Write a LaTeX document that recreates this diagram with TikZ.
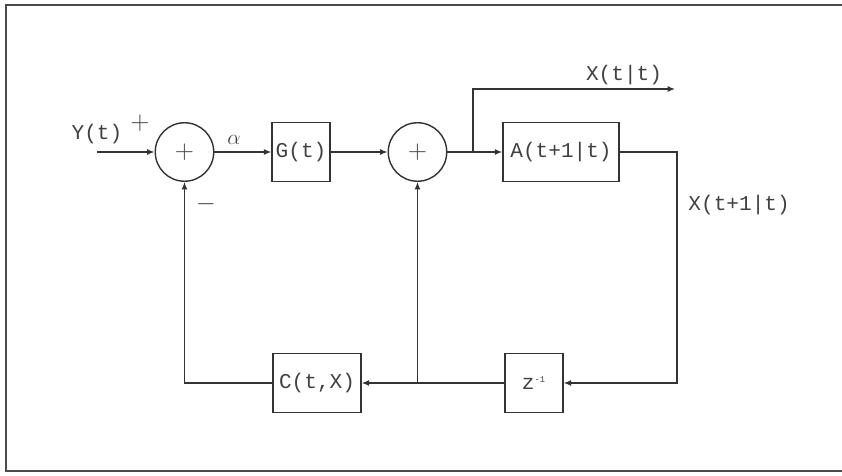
\documentclass[tikz,border=0pt]{standalone}
\usepackage{fontspec}
\setmonofont{Liberation Mono}
\usepackage{amsmath,amssymb}
\usetikzlibrary{positioning,arrows.meta,calc}

\tikzset{
  block/.style={draw=black!80,line width=0.8pt,minimum height=1.19cm,inner sep=2pt,font=\fontsize{12}{14}\ttfamily,text=black!75},
  summer/.style={draw=black!80,line width=0.8pt,circle,minimum size=1.17cm,inner sep=0pt,font=\Large\sffamily,text=black!75},
  sig/.style={font=\fontsize{12}{14}\ttfamily,text=black!75}
}

\begin{document}
\begin{tikzpicture}[>={Latex[length=1.5mm,width=1.2mm]},line width=0.7pt,draw=black!80]
\useasboundingbox (0,0) rectangle (16.84,9.5);
\clip (0,0) rectangle (16.84,9.5);
% frame
\draw[black!70,line width=1pt] (17.5,9.4) -- (0.12,9.4) -- (0.12,0.08) -- (17.5,0.08);

\node[summer] (sumA) at (3.69,6.46) {+};
\node[block,minimum width=1.16cm] (gain) at (6.02,6.46) {G(t)};
\node[summer] (sumB) at (8.35,6.46) {+};
\node[block,minimum width=2.32cm] (pred) at (11.22,6.46) {A(t+1|t)};
\node[block,minimum width=1.16cm] (delay) at (10.68,1.84) {z\textsuperscript{\tiny -1}};
\node[block,minimum width=1.76cm] (obs) at (6.34,1.84) {C(t,X)};

\coordinate (yin) at (1.94,6.46);
\coordinate (tap) at (9.46,6.46);
\coordinate (xout) at (13.5,7.72);
\coordinate (corner) at (13.54,6.46);
\coordinate (fb) at (8.35,1.84);

\node[sig,anchor=south] (ylab) at (1.94,6.5) {Y(t)};
\node[font=\Large\sffamily,text=black!75] (plus) at (2.8,7.04) {+};
\node[font=\Large\sffamily,text=black!75] (minus) at (4.12,5.42) {$-$};
\node[text=black!75,font=\large] (alpha) at (4.68,6.7) {$\alpha$};
\node[sig] (xtt) at (12.48,8.0) {X(t|t)};
\node[sig,anchor=west] (xnext) at (13.64,5.4) {X(t+1|t)};

\draw[->] (yin) -- (sumA);
\draw[->] (sumA) -- (gain);
\draw[->] (gain) -- (sumB);
\draw[->] (sumB) -- (pred);
\draw[->] (tap) |- (xout);
\draw[->] (pred.east) -- (corner) |- (delay.east);
\draw[->] (delay) -- (obs);
\draw[->] (fb) -- (sumB);
\draw[->] (obs.west) -| (sumA.south);
\end{tikzpicture}
\end{document}
